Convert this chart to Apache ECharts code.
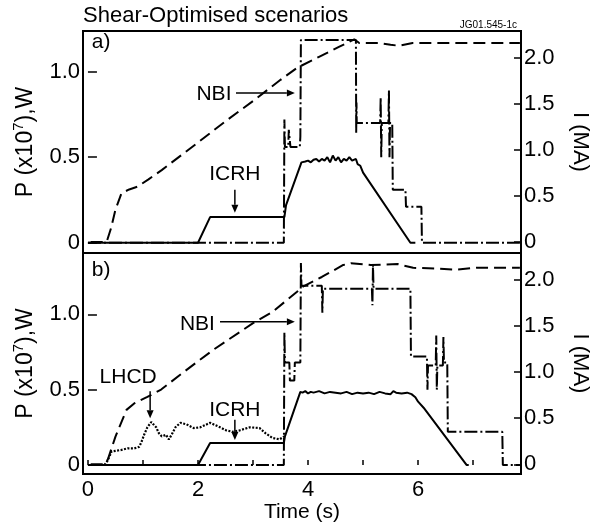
<!DOCTYPE html>
<html><head><meta charset="utf-8">
<script src="https://cdn.jsdelivr.net/npm/echarts@6.0.0/dist/echarts.min.js"></script>
<style>html,body{margin:0;padding:0;background:#fff}#c{width:599px;height:525px}</style>
</head><body><div id="c"></div>
<script>
// ---- tick values ----
const timeTicks = [0, 1, 2, 3, 4, 5, 6, 7];
const timeLabels = [0, 2, 4, 6];
const pTicks = [0, 0.5, 1.0];
const iTicks = [0, 0.5, 1.0, 1.5, 2.0];

// ---- panel a) ----
const currentA = [[0.05,0],[0.34,0],[0.42,0.15],[0.5,0.35],[0.61,0.53],[0.75,0.57],[0.9,0.6],[1.1,0.68],[1.34,0.78],[2.0,1.08],[2.5,1.31],[3.0,1.53],[3.5,1.76],[3.8,1.89],[4.2,2.01],[4.57,2.12],[4.84,2.20],[4.93,2.16],[5.29,2.16],[5.5,2.14],[5.65,2.13],[5.9,2.16],[7.85,2.16]];
const nbiA = [[0,0],[3.56,0],[3.57,0.72],[3.58,0.56],[3.64,0.56],[3.65,0.66],[3.68,0.56],[3.85,0.56],[3.86,0.62],[3.87,1.185],[4.87,1.185],[4.875,0.64],[4.88,0.82],[4.885,0.70],[5.31,0.70],[5.32,0.85],[5.33,0.5],[5.34,0.70],[5.46,0.70],[5.47,0.89],[5.48,0.5],[5.49,0.70],[5.53,0.70],[5.54,0.31],[5.77,0.31],[5.78,0.21],[6.06,0.21],[6.07,0],[7.85,0]];
const icrhA = [[0,0],[2.0,0],[2.22,0.15],[3.57,0.15],[3.6,0.22],[3.88,0.47],[3.95,0.475],[4.0,0.48],[4.05,0.47],[4.1,0.485],[4.15,0.49],[4.2,0.475],[4.25,0.49],[4.3,0.48],[4.35,0.5],[4.4,0.47],[4.45,0.51],[4.5,0.48],[4.55,0.5],[4.6,0.47],[4.65,0.49],[4.7,0.48],[4.75,0.5],[4.8,0.48],[4.87,0.49],[4.9,0.46],[4.95,0.45],[5.0,0.41],[5.86,0],[5.95,0]];

// ---- panel b) ----
const currentB = [[0.05,0],[0.3,0],[0.36,0.05],[0.5,0.3],[0.7,0.59],[0.84,0.66],[1.08,0.73],[1.33,0.81],[1.74,1.0],[2.3,1.25],[3.0,1.53],[3.35,1.65],[3.8,1.87],[3.89,1.92],[4.25,2.03],[4.64,2.16],[4.78,2.18],[5.14,2.16],[5.63,2.17],[5.91,2.13],[6.34,2.12],[6.7,2.11],[7.06,2.13],[7.85,2.13]];
const nbiB = [[0,0],[3.56,0],[3.57,0.88],[3.58,0.68],[3.66,0.68],[3.67,0.56],[3.75,0.56],[3.76,0.68],[3.86,0.68],[3.87,1.34],[3.88,1.19],[4.25,1.19],[4.26,1.01],[4.27,1.17],[5.16,1.17],[5.17,1.06],[5.18,1.33],[5.19,1.17],[5.86,1.17],[5.87,0.72],[6.16,0.72],[6.17,0.5],[6.18,0.66],[6.32,0.66],[6.33,0.86],[6.34,0.5],[6.35,0.66],[6.45,0.66],[6.46,0.85],[6.47,0.68],[6.53,0.68],[6.54,0.22],[7.53,0.22],[7.54,0],[7.85,0]];
const icrhB = [[0,0],[2.0,0],[2.22,0.146],[3.56,0.146],[3.58,0.19],[3.86,0.485],[3.9,0.48],[3.95,0.49],[4.0,0.475],[4.05,0.485],[4.1,0.48],[4.2,0.49],[4.3,0.475],[4.4,0.485],[4.5,0.48],[4.6,0.475],[4.7,0.485],[4.8,0.47],[4.9,0.48],[5.0,0.475],[5.1,0.48],[5.2,0.47],[5.3,0.485],[5.4,0.475],[5.5,0.47],[5.55,0.49],[5.6,0.48],[5.7,0.475],[5.8,0.48],[5.88,0.47],[5.95,0.45],[6.0,0.42],[6.1,0.38],[6.88,0],[6.92,0]];
const lhcdB = [[0.3,0],[0.36,0.03],[0.43,0.09],[0.61,0.10],[0.72,0.11],[0.84,0.11],[0.93,0.12],[0.97,0.15],[1.02,0.2],[1.08,0.25],[1.15,0.285],[1.24,0.25],[1.29,0.21],[1.34,0.19],[1.42,0.2],[1.47,0.17],[1.52,0.2],[1.59,0.25],[1.68,0.28],[1.79,0.27],[1.92,0.245],[2.04,0.25],[2.22,0.28],[2.40,0.25],[2.51,0.23],[2.63,0.22],[2.76,0.23],[2.94,0.25],[3.12,0.245],[3.23,0.21],[3.35,0.18],[3.48,0.17],[3.57,0.19]];

// ---- annotations (data coordinates: [time, P]) ----
const labelsA = [{text:'NBI', at:[2.29,0.87], align:'center'}, {text:'ICRH', at:[2.67,0.40], align:'center'}, {text:'a)', at:[0.07,1.17], align:'left'}];
const arrowsA = [{from:[2.69,0.875], to:[3.76,0.875]}, {from:[2.67,0.31], to:[2.67,0.175]}];
const labelsB = [{text:'NBI', at:[1.99,0.935], align:'center'}, {text:'LHCD', at:[0.73,0.58], align:'center'}, {text:'ICRH', at:[2.67,0.365], align:'center'}, {text:'b)', at:[0.07,1.29], align:'left'}];
const arrowsB = [{from:[2.40,0.95], to:[3.76,0.95]}, {from:[1.13,0.49], to:[1.13,0.31]}, {from:[2.67,0.30], to:[2.67,0.165]}];

const FF = '"Liberation Sans", Arial, Helvetica, sans-serif';
const pFmt = v => v === 0 ? '0' : v.toFixed(1);

function xAxisDef(grid, showLabels) {
  return {
    gridIndex: grid, type: 'value', min: -0.09, max: 7.87,
    axisLine: {show: false},
    axisTick: showLabels ? {show: true, inside: true, length: 5, customValues: timeTicks, lineStyle: {color: '#000', width: 1.5}} : {show: false},
    axisLabel: showLabels ? {show: true, customValues: timeLabels, fontSize: 22, fontFamily: FF, color: '#000', margin: 5} : {show: false},
    splitLine: {show: false},
    name: showLabels ? 'Time (s)' : '', nameLocation: 'middle', nameGap: 25,
    nameTextStyle: {fontSize: 21, fontFamily: FF, color: '#000'}
  };
}
function pAxisDef(grid, min, max) {
  return {
    gridIndex: grid, type: 'value', position: 'left', min: min, max: max,
    axisLine: {show: false},
    axisTick: {show: true, inside: true, length: 9, customValues: pTicks, lineStyle: {color: '#000', width: 1.5}},
    axisLabel: {customValues: pTicks, formatter: pFmt, fontSize: 22, fontFamily: FF, color: '#000', margin: 3},
    splitLine: {show: false},
    name: '{n|P (x10}{s|7}{n|),W}', nameLocation: 'middle', nameGap: 42, nameRotate: 90,
    nameTextStyle: {fontFamily: FF, color: '#000', rich: {n: {fontSize: 23, fontFamily: FF, color: '#000', lineHeight: 30}, s: {fontSize: 15, fontFamily: FF, color: '#000', lineHeight: 14, verticalAlign: 'top'}}}
  };
}
function iAxisDef(grid, min, max) {
  return {
    gridIndex: grid, type: 'value', position: 'right', min: min, max: max,
    axisLine: {show: false},
    axisTick: {show: true, inside: true, length: 7, customValues: iTicks, lineStyle: {color: '#000', width: 1.5}},
    axisLabel: {customValues: iTicks, formatter: pFmt, fontSize: 22, fontFamily: FF, color: '#000', margin: 3},
    splitLine: {show: false},
    name: 'I (MA)', nameLocation: 'middle', nameGap: 48, nameRotate: -90,
    nameTextStyle: {fontSize: 22, fontFamily: FF, color: '#000'}
  };
}
function lineSeries(data, xi, yi, type, width, z) {
  return {type: 'line', data: data, xAxisIndex: xi, yAxisIndex: yi, showSymbol: false, symbol: 'none',
    lineStyle: {color: '#000', width: width, type: type}, z: z, silent: true};
}

const chart = echarts.init(document.getElementById('c'), null, {renderer: 'canvas'});
chart.setOption({
  animation: false,
  backgroundColor: '#fff',
  grid: [
    {left: 83, top: 31, width: 444, height: 222, show: true, borderColor: '#000', borderWidth: 2, backgroundColor: 'transparent'},
    {left: 83, top: 253, width: 444, height: 221, show: true, borderColor: '#000', borderWidth: 2, backgroundColor: 'transparent'}
  ],
  xAxis: [xAxisDef(0, false), xAxisDef(1, true)],
  yAxis: [pAxisDef(0, -0.06, 1.238), iAxisDef(0, -0.12, 2.29), pAxisDef(1, -0.06, 1.407), iAxisDef(1, -0.105, 2.29)],
  series: [
    lineSeries(currentA, 0, 1, [12, 6], 2, 3),
    lineSeries(nbiA, 0, 0, [13, 3, 2, 3], 2, 4),
    lineSeries(icrhA, 0, 0, 'solid', 2, 5),
    lineSeries(currentB, 1, 3, [12, 6], 2, 3),
    lineSeries(nbiB, 1, 2, [13, 3, 2, 3], 2, 4),
    lineSeries(icrhB, 1, 2, 'solid', 2, 5),
    lineSeries(lhcdB, 1, 2, [2, 1.5], 2.2, 5)
  ]
});

function annotate() {
  const g = [];
  g.push({type: 'text', x: 83, y: 16, style: {text: 'Shear-Optimised scenarios', font: '22px ' + FF, fill: '#000', align: 'left', verticalAlign: 'middle'}});
  g.push({type: 'text', x: 517, y: 25, style: {text: 'JG01.545-1c', font: '10px ' + FF, fill: '#000', align: 'right', verticalAlign: 'middle'}});
  const panels = [[0, 0, labelsA, arrowsA], [1, 2, labelsB, arrowsB]];
  panels.forEach(([xi, yi, labels, arrows]) => {
    const px = p => chart.convertToPixel({xAxisIndex: xi, yAxisIndex: yi}, p);
    labels.forEach(l => {
      const p = px(l.at);
      g.push({type: 'text', x: p[0], y: p[1], style: {text: l.text, font: '21px ' + FF, fill: '#000', align: l.align, verticalAlign: 'middle'}, z: 10});
    });
    arrows.forEach(a => {
      const p0 = px(a.from), p1 = px(a.to);
      const dx = p1[0] - p0[0], dy = p1[1] - p0[1];
      const len = Math.hypot(dx, dy), ux = dx / len, uy = dy / len;
      const hl = 8, hw = 3.5;
      const bx = p1[0] - ux * hl, by = p1[1] - uy * hl;
      g.push({type: 'line', shape: {x1: p0[0], y1: p0[1], x2: bx, y2: by}, style: {stroke: '#000', lineWidth: 1.5}, z: 10});
      g.push({type: 'polygon', shape: {points: [[p1[0], p1[1]], [bx - uy * hw, by + ux * hw], [bx + uy * hw, by - ux * hw]]}, style: {fill: '#000'}, z: 10});
    });
  });
  chart.setOption({graphic: g});
}
annotate();
</script>
</body></html>
